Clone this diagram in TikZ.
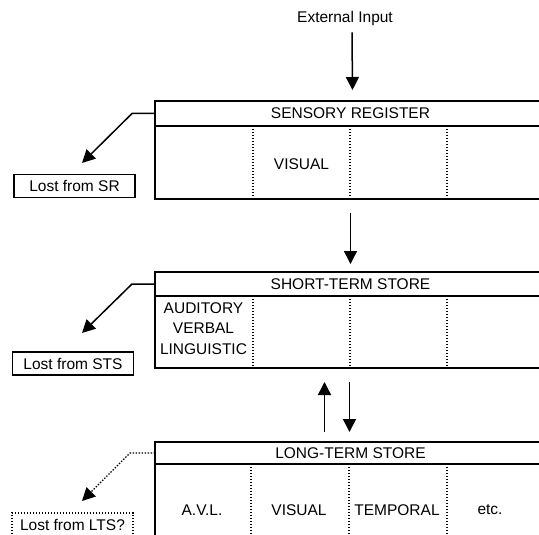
\documentclass[tikz,border=0pt]{standalone}
\usepackage{fontspec}
\setmainfont{Liberation Sans}
\usetikzlibrary{arrows.meta}
\begin{document}
\begin{tikzpicture}[x=1pt,y=-1pt,
  box/.style={draw, line width=1.6pt, rectangle, inner sep=0pt, outer sep=0pt, anchor=north west, minimum width=391pt},
  lbl/.style={font=\fontsize{15.5}{18}\selectfont, inner sep=0pt},
  tip/.style={-{Triangle[length=13pt,width=13pt]}},
  arr/.style={line width=1.5pt, tip},
  div/.style={line width=1.4pt, dash pattern=on 1.4pt off 1.6pt},
  lostbox/.style={line width=1.4pt, minimum width=121pt, minimum height=23pt, inner sep=0pt, outer sep=0pt, font=\fontsize{15.5}{18}\selectfont}]
\useasboundingbox (0,0) rectangle (539,535);
\clip (0,0) rectangle (539,535);

% External input
\node[lbl] (ext) at (345,18) {External Input};

% Sensory register
\node[box, minimum height=25pt] (srh) at (155,101) {};
\node[box, minimum height=73pt] (srb) at (155,126) {};
\node[lbl] (srt) at (srh.center) {SENSORY REGISTER};
\foreach \x in {253,350,447} \draw[div] (\x,126) -- (\x,199);
\node[lbl] (srv) at (301.5,164) {VISUAL};

% Short-term store
\node[box, minimum height=24pt] (stsh) at (155,272) {};
\node[box, minimum height=72pt] (stsb) at (155,296) {};
\node[lbl] (stst) at (stsh.center) {SHORT-TERM STORE};
\foreach \x in {253,350,447} \draw[div] (\x,296) -- (\x,368);
\node[lbl, align=center, font=\fontsize{15.5}{20.5}\selectfont] (stsa) at (203.5,328.5) {AUDITORY\\VERBAL\\LINGUISTIC};

% Long-term store
\node[box, minimum height=22pt] (ltsh) at (155,442) {};
\node[box, minimum height=100pt] (ltsb) at (155,464) {};
\node[lbl] (ltst) at (ltsh.center) {LONG-TERM STORE};
\foreach \x in {251,349,447} \draw[div] (\x,464) -- (\x,545);
\node[lbl] (l1) at (202,510) {A.V.L.};
\node[lbl] (l2) at (299,510) {VISUAL};
\node[lbl] (l3) at (397,510) {TEMPORAL};
\node[lbl] (l4) at (490,510) {etc.};

% Lost boxes
\node[lostbox, draw] (lostsr) at (74.5,186) {Lost from SR};
\node[lostbox, draw] (loststs) at (73,363.5) {Lost from STS};
\node[lostbox, draw=none, minimum height=24pt] (lostlts) at (72.5,525) {Lost from LTS?};
\draw[div] (lostlts.south west) rectangle (lostlts.north east);

% Vertical arrows
\draw[arr] ([xshift=7pt,yshift=-7pt]ext.south) -- ([xshift=2pt,yshift=11pt]srh.north);
\draw[arr] ([yshift=-14pt]srb.south) -- ([yshift=8pt]stsh.north);
\draw[arr] ([xshift=-26pt,yshift=10pt]ltsh.north) -- ([xshift=-26pt,yshift=-14pt]stsb.south);
\draw[arr] ([xshift=-1pt,yshift=-14pt]stsb.south) -- ([xshift=-1pt,yshift=10pt]ltsh.north);

% Loss connectors
\coordinate (srtip) at (82,163);
\coordinate (ststip) at (82,333);
\coordinate (ltstip) at (82,501);
\draw[arr] (srh.west) -- ++(-23,0) -- (srtip);
\draw[arr] (stsh.west) -- ++(-23,0) -- (ststip);
\draw[div, tip] (ltsh.west) -- ++(-25,0) -- (ltstip);
\end{tikzpicture}
\end{document}
